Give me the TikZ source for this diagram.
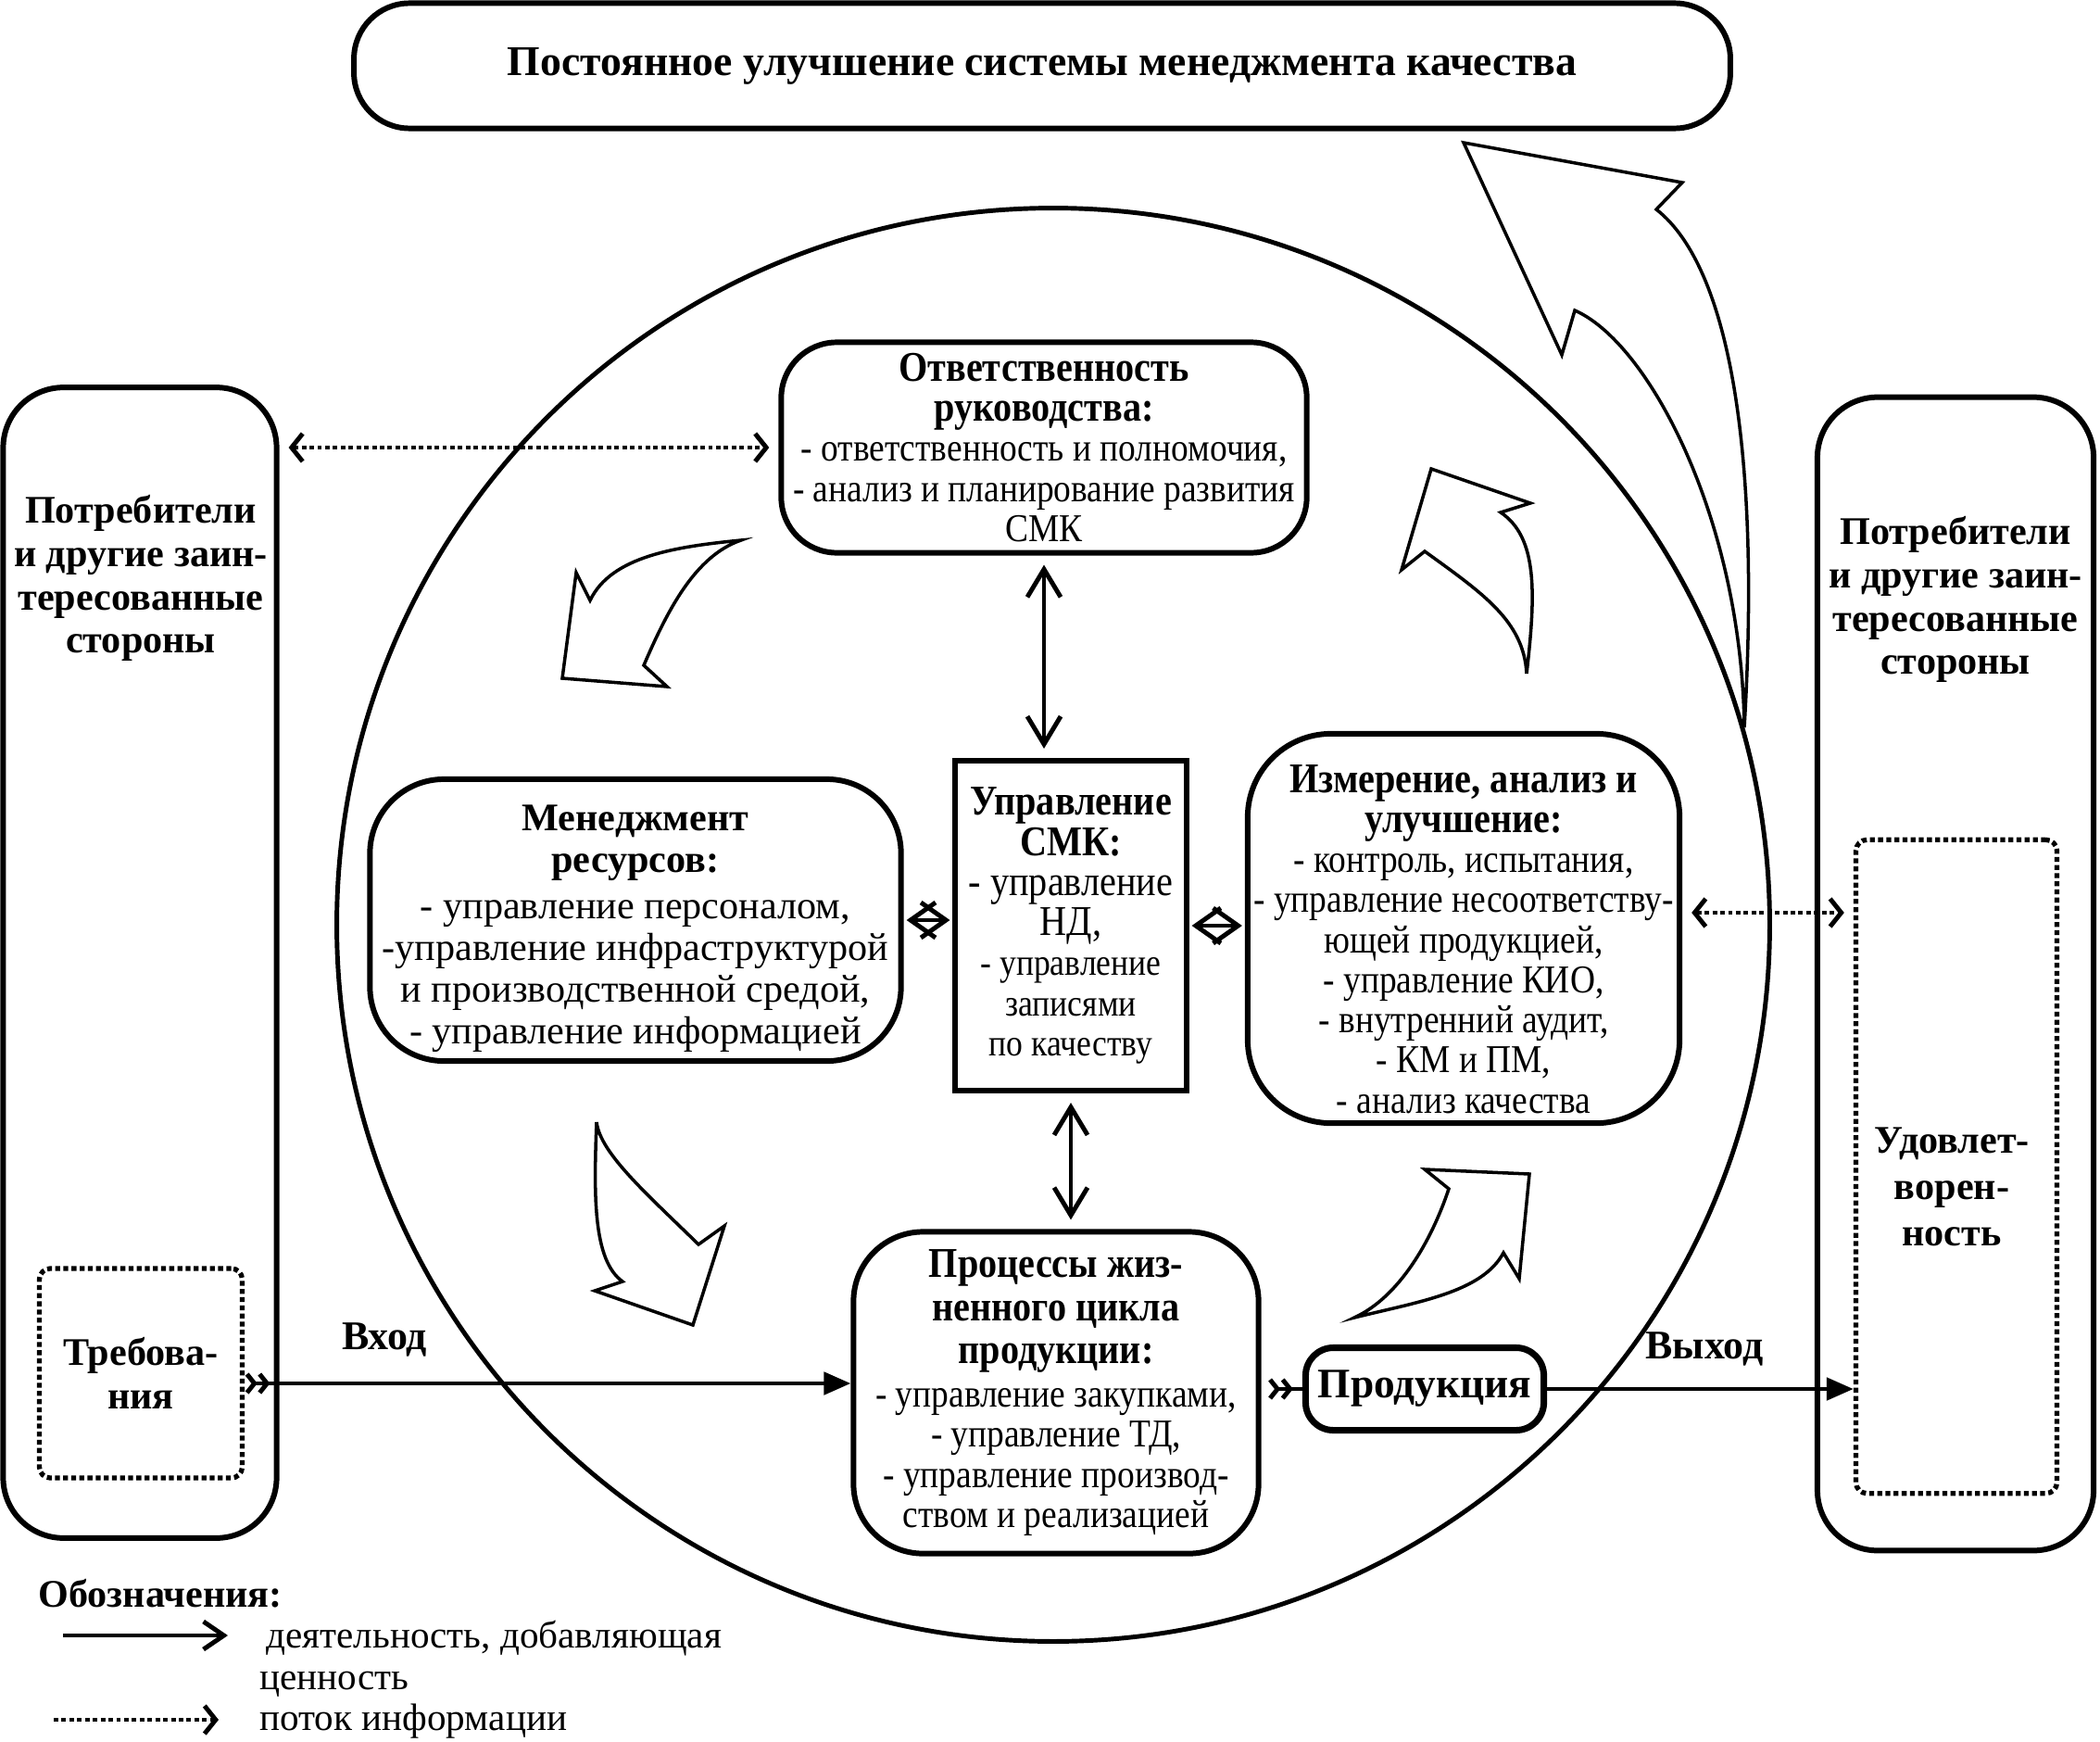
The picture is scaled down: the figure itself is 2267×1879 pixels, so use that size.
\documentclass[tikz,border=0pt]{standalone}
\usepackage{fontspec}
\setmainfont{Liberation Serif}
\newfontfamily\narrowfont[FakeStretch=0.88]{Liberation Serif}
\usetikzlibrary{arrows.meta}

\newcommand\ttl{\fontsize{13}{16}\selectfont\bfseries}
\newcommand\hd{\fontsize{12}{13.3}\selectfont\bfseries}
\newcommand\hdl{\fontsize{13}{14}\selectfont\bfseries}
\newcommand\bdn{\narrowfont\fontsize{12.1}{12.3}\selectfont}
\newcommand\bds{\narrowfont\fontsize{11.5}{12.3}\selectfont}
\newcommand\bdw{\fontsize{12}{12.8}\selectfont}

\tikzset{
  roundbox/.style={draw, line width=1.7pt, rounded corners=#1, inner sep=0pt, align=center, fill=white},
  roundbox/.default=0.6cm,
  dotbox/.style={draw, line width=1.5pt, densely dotted, rounded corners=0.12cm, inner sep=0pt, align=center},
  fatarrow/.style={draw, line width=1pt, fill=white, line join=miter, miter limit=10},
  link/.style={line width=1.4pt, {Straight Barb[length=0.3cm,width=0.36cm]}-{Straight Barb[length=0.3cm,width=0.36cm]}, shorten <=0.1cm, shorten >=0.1cm},
  diamondlink/.style={line width=1.4pt, {Straight Barb[length=0.27cm,width=0.38cm]}-{Straight Barb[length=0.27cm,width=0.38cm]}, shorten <=0.03cm, shorten >=0.03cm},
  infolink/.style={line width=1.4pt, densely dotted, {Straight Barb[length=0.12cm,width=0.3cm]}-{Straight Barb[length=0.12cm,width=0.3cm]}, shorten <=0.1cm, shorten >=0.1cm},
  valueflow/.style={line width=1.4pt, -{Triangle[length=0.29cm,width=0.24cm]}},
  inflow/.style={line width=1.4pt, {Straight Barb[reversed,length=0.08cm,width=0.2cm] Straight Barb[reversed,length=0.08cm,width=0.2cm]}-{Triangle[length=0.29cm,width=0.24cm]}},
  twotail/.style={line width=1.4pt, {Straight Barb[reversed,length=0.08cm,width=0.2cm] Straight Barb[reversed,length=0.08cm,width=0.2cm]}-},
}

\begin{document}
\begin{tikzpicture}[x=0.01cm, y=-0.01cm]
\useasboundingbox (0,0) rectangle (2267,1879);
\draw[line width=1.4pt] (1137,998) circle [radius=7.73cm];

\node[roundbox=0.6cm, minimum width=14.85cm, minimum height=1.35cm, font=\ttl] (Title) at (1125,71) {Постоянное улучшение системы менеджмента качества};

\node[roundbox=0.65cm, minimum width=2.95cm, minimum height=12.41cm] (Cust) at (151,1039) {};
\node[font=\hd, align=center] (CustNote) at (152,624) {Потребители\\и другие заин-\\тересованные\\стороны};
\node[dotbox, minimum width=2.19cm, minimum height=2.26cm, font=\hd] (Req) at (152,1482) {Требова-\\ния};

\node[roundbox=0.65cm, minimum width=2.98cm, minimum height=12.44cm] (Party) at (2111,1051) {};
\node[font=\hd, align=center] (PartyNote) at (2111,647) {Потребители\\и другие заин-\\тересованные\\стороны};
\node[dotbox, minimum width=2.17cm, minimum height=7.05cm] (Sat) at (2112,1259) {};
\node[font=\fontsize{12}{14.3}\selectfont\bfseries, align=center] (SatNote) at (2107,1281) {Удовлет-\\ворен-\\ность};

\node[roundbox=0.6cm, minimum width=5.67cm, minimum height=2.27cm, font=\bdn] (Resp) at (1127,483) {\hdl Ответственность\\\hdl руководства:\\- ответственность и полномочия,\\- анализ и планирование развития\\СМК};
\node[roundbox=0.8cm, minimum width=5.73cm, minimum height=3.04cm, font=\bdw] (Res) at (686,993) {\rule{0pt}{13pt}\hd Менеджмент\\\hd ресурсов:\\[1.5pt]- управление персоналом,\\-управление инфраструктурой\\и производственной средой,\\- управление информацией};
\node[draw, line width=1.7pt, inner sep=0pt, align=center, minimum width=2.49cm, minimum height=3.56cm, font=\bds] (Smk) at (1156,999) {\hdl Управление\\\hdl СМК:\\\fontsize{13}{13.5}\selectfont - управление\\\fontsize{13}{13.5}\selectfont НД,\\- управление\\записями\\по качеству};
\node[roundbox=0.9cm, minimum width=4.66cm, minimum height=4.2cm, font=\bdn] (Meas) at (1580,1002) {\rule{0pt}{15pt}\hdl Измерение, анализ и\\\hdl улучшение:\\- контроль, испытания,\\- управление несоответству-\\ющей продукцией,\\- управление КИО,\\- внутренний аудит,\\- КМ и ПМ,\\- анализ качества};
\node[roundbox=0.75cm, minimum width=4.37cm, minimum height=3.47cm, font=\bdn] (Proc) at (1140,1503) {\hdl Процессы жиз-\\[1pt]\hdl ненного цикла\\[1pt]\hdl продукции:\\[1pt]- управление закупками,\\- управление ТД,\\- управление производ-\\ством и реализацией};
\node[roundbox=0.3cm, line width=2pt, minimum width=2.57cm, minimum height=0.89cm, font=\fontsize{12.9}{15}\selectfont\bfseries] (Prod) at (1538,1499) {Продукция};

\node[font=\fontsize{12.5}{14}\selectfont\bfseries] (In) at (415,1446) {Вход};
\node[font=\fontsize{12.5}{14}\selectfont\bfseries] (Out) at (1840,1456) {Выход};

\draw[fatarrow] (800,583) .. controls (730,590) and (660,600) .. (637,648) -- (622,618) -- (607,732) -- (720,741) -- (695,718) .. controls (720,660) and (750,600) .. (800,583) -- cycle;
\draw[fatarrow] (644,1211) .. controls (641,1290) and (640,1360) .. (672,1383) -- (642,1393) -- (748,1430) -- (782,1323) -- (754,1343) .. controls (700,1290) and (648,1245) .. (644,1211) -- cycle;
\draw[fatarrow] (1462,1422) .. controls (1510,1400) and (1545,1340) .. (1564,1283) -- (1538,1262) -- (1651,1267) -- (1640,1380) -- (1623,1352) .. controls (1600,1395) and (1530,1405) .. (1462,1422) -- cycle;
\draw[fatarrow] (1648,727) .. controls (1658,640) and (1660,580) .. (1620,553) -- (1652,543) -- (1545,506) -- (1513,615) -- (1538,595) .. controls (1600,640) and (1645,670) .. (1648,727) -- cycle;
\draw[fatarrow] (1883,785) .. controls (1900,500) and (1870,290) .. (1788,226) -- (1816,197) -- (1580,154) -- (1686,383) -- (1700,335) .. controls (1780,370) and (1880,560) .. (1883,785) -- cycle;

\draw[link] (Resp.south) -- (Resp.south |- Smk.north);
\draw[link] (Smk.south) -- (Smk.south |- Proc.north);
\draw[diamondlink] (Res.east) -- (Res.east -| Smk.west);
\draw[diamondlink] (Smk.east) -- (Smk.east -| Meas.west);
\draw[infolink] (Resp.west -| Cust.east) -- (Resp.west);
\coordinate (mr) at ([yshift=0.17cm]Meas.east);
\draw[infolink] (mr) -- (mr -| Sat.west);
\coordinate (rq) at ([yshift=-0.11cm]Req.east);
\draw[inflow] (rq) -- (rq -| Proc.west);
\draw[twotail, shorten <=0.07cm] (Prod.west -| Proc.east) -- (Prod.west);
\draw[valueflow] (Prod.east) -- (Prod.east -| Sat.west);

\node[font=\hd, anchor=west] (Legend) at (29,1720) {Обозначения:};
\coordinate (la1) at (68,1765);
\coordinate (la2) at (246,1765);
\coordinate (lb1) at (58,1856);
\coordinate (lb2) at (236,1856);
\draw[line width=1.4pt, -{Straight Barb[length=0.22cm,width=0.3cm]}] (la1) -- (la2);
\draw[line width=1.4pt, densely dotted, -{Straight Barb[length=0.12cm,width=0.3cm]}] (lb1) -- (lb2);
\node[font=\fontsize{11.7}{12.8}\selectfont, anchor=west, align=left] (LegA) at (268,1790) {\hspace{0.07cm}деятельность, добавляющая\\ценность};
\node[font=\fontsize{11.7}{12.8}\selectfont, anchor=west] (LegB) at (268,1858) {поток информации};
\end{tikzpicture}
\end{document}
